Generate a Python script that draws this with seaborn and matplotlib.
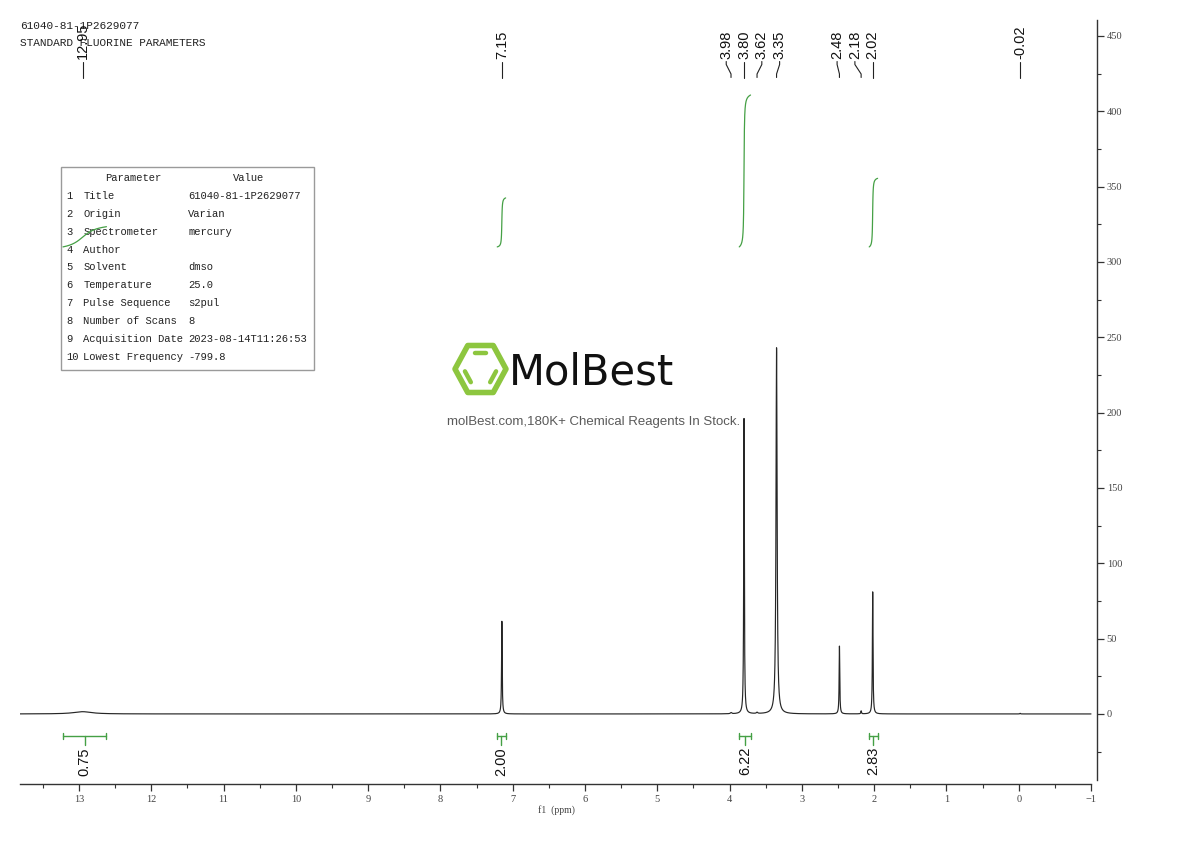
import numpy as np
import pandas as pd
import matplotlib
matplotlib.use("Agg")
import matplotlib.pyplot as plt
import seaborn as sns
from matplotlib import font_manager
from matplotlib.transforms import blended_transform_factory
from matplotlib.ticker import MultipleLocator, FixedLocator
from matplotlib.patches import Polygon, Rectangle

# ---------------- data ----------------
peak_ppm = [12.95, 7.15, 3.98, 3.80, 3.62, 3.35, 2.48, 2.18, 2.02, -0.02]
peak_height = [1.5, 61.5, 0.8, 196.0, 0.8, 243.0, 45.0, 2.0, 81.0, 0.4]
peak_fwhm = [0.30, 0.010, 0.02, 0.010, 0.02, 0.018, 0.010, 0.010, 0.010, 0.010]

peak_labels = ["12.95", "7.15", "3.98", "3.80", "3.62", "3.35", "2.48", "2.18", "2.02", "-0.02"]

integral_start = [13.221, 7.214, 3.866, 2.068]
integral_end = [12.620, 7.098, 3.709, 1.952]
integral_labels = ["0.75", "2.00", "6.22", "2.83"]
integral_trace_top = [323.4, 342.5, 410.8, 355.5]
integral_trace_base = 310.0

x_ticks = [13, 12, 11, 10, 9, 8, 7, 6, 5, 4, 3, 2, 1, 0, -1]
x_tick_labels = ["13", "12", "11", "10", "9", "8", "7", "6", "5", "4", "3", "2", "1", "0", "\u22121"]
y_ticks = [0, 50, 100, 150, 200, 250, 300, 350, 400, 450]

header_lines = ["61040-81-1P2629077", "STANDARD FLUORINE PARAMETERS"]
param_numbers = ["1", "2", "3", "4", "5", "6", "7", "8", "9", "10"]
param_names = ["Title", "Origin", "Spectrometer", "Author", "Solvent", "Temperature",
               "Pulse Sequence", "Number of Scans", "Acquisition Date", "Lowest Frequency"]
param_values = ["61040-81-1P2629077", "Varian", "mercury", "", "dmso", "25.0",
                "s2pul", "8", "2023-08-14T11:26:53", "-799.8"]

# ---------------- style ----------------
sns.set_theme(style="white")
plt.rcParams["font.family"] = ["DejaVu Sans"]

W, H = 1190, 841
green = "#45a045"
lime = "#8dc63f"

fig = plt.figure(figsize=(W / 100, H / 100), dpi=100)
fig.patch.set_facecolor("white")

ov = fig.add_axes([0, 0, 1, 1], zorder=0)
ov.set_xlim(0, W)
ov.set_ylim(H, 0)
ov.axis("off")

ax = fig.add_axes([20 / W, (H - 784) / H, 1077 / W, 764 / H], zorder=1)
ax.patch.set_alpha(0)

# ---------------- spectrum ----------------
ppm_grid = np.linspace(13.816, -1.0, 14817)
intensity = np.zeros_like(ppm_grid)
for c, h, w in zip(peak_ppm, peak_height, peak_fwhm):
    g = w / 2
    intensity += h * g ** 2 / ((ppm_grid - c) ** 2 + g ** 2)
df = pd.DataFrame({"ppm": ppm_grid, "intensity": intensity})
sns.lineplot(data=df, x="ppm", y="intensity", ax=ax, color="#262626",
             linewidth=0.85, estimator=None, sort=False, legend=False)

ax.set_xlim(13.816, -1.083)
ax.set_ylim(-46.5, 460.6)
ax.set_xlabel("")
ax.set_ylabel("")

for side in ["left", "top"]:
    ax.spines[side].set_visible(False)
ax.spines["bottom"].set_bounds(13.816, -1.0)
ax.spines["right"].set_bounds(-43.8, 460.6)
for side in ["bottom", "right"]:
    ax.spines[side].set_color("#333333")
    ax.spines[side].set_linewidth(1.0)

ax.yaxis.tick_right()
ax.xaxis.set_major_locator(FixedLocator(x_ticks))
ax.set_xticklabels(x_tick_labels)
ax.xaxis.set_minor_locator(MultipleLocator(0.5))
ax.yaxis.set_major_locator(FixedLocator(y_ticks))
ax.set_yticklabels([str(v) for v in y_ticks])
ax.yaxis.set_minor_locator(MultipleLocator(25))
ax.tick_params(axis="x", which="major", direction="out", length=5, width=0.9,
               color="#333333", pad=3, labelsize=7.5, labelcolor="#444444", bottom=True)
ax.tick_params(axis="x", which="minor", direction="out", length=3, width=0.8,
               color="#333333", bottom=True)
ax.tick_params(axis="y", which="major", direction="out", length=5, width=0.9,
               color="#333333", pad=2, labelsize=7.5, labelcolor="#444444",
               right=True, left=False)
ax.tick_params(axis="y", which="minor", direction="out", length=3, width=0.8,
               color="#333333", right=True, left=False)
for lab in ax.get_xticklabels() + ax.get_yticklabels():
    lab.set_fontfamily(["Liberation Serif", "DejaVu Serif"])

# ---------------- integrals ----------------
for s, e, top in zip(integral_start, integral_end, integral_trace_top):
    m = (ppm_grid <= s) & (ppm_grid >= e)
    cs = np.cumsum(intensity[m])
    cs = (cs - cs[0]) / (cs[-1] - cs[0])
    ax.plot(ppm_grid[m], integral_trace_base + (top - integral_trace_base) * cs,
            color=green, lw=0.9, clip_on=False)

yb, cap, ystem, ylab = -14.6, 2.2, -20.6, -22.0
for s, e, lab in zip(integral_start, integral_end, integral_labels):
    c = (s + e) / 2
    ax.plot([s, e], [yb, yb], color=green, lw=1.0, clip_on=False)
    ax.plot([s, s], [yb - cap, yb + cap], color=green, lw=1.0, clip_on=False)
    ax.plot([e, e], [yb - cap, yb + cap], color=green, lw=1.0, clip_on=False)
    ax.plot([c, c], [yb, ystem], color=green, lw=1.0, clip_on=False)
    ax.text(c, ylab, lab, rotation=90, rotation_mode="anchor", ha="right",
            va="center", fontsize=10.5, color="#111111",
            family=["Liberation Sans", "DejaVu Sans"])

# ---------------- peak labels ----------------
bt = blended_transform_factory(ax.transData, ax.transAxes)
ppx = 72.29  # pixels per ppm
step = 17.8 / ppx
label_pos = [12.95, 7.15, 3.80 + step, 3.80, 3.80 - step, 3.80 - 2 * step,
             2.02 + 2 * step, 2.02 + step, 2.02, -0.02]

def fy(py):
    return (784 - py) / 764

for lab, lx, px in zip(peak_labels, label_pos, peak_ppm):
    ax.text(lx, fy(59), lab, rotation=90, rotation_mode="anchor", ha="left",
            va="center", fontsize=10.5, color="#111111", transform=bt,
            family=["Liberation Sans", "DejaVu Sans"], clip_on=False)
    ax.plot([lx, lx, px, px], [fy(61.5), fy(64.5), fy(74), fy(77.5)],
            color="#222222", lw=0.8, transform=bt, clip_on=False)

# ---------------- header + parameter table ----------------
mono = ["Liberation Mono", "DejaVu Sans Mono"]
ov.text(20.5, 26, header_lines[0], fontsize=8, family=mono, color="#222222", va="center", ha="left")
ov.text(20.5, 42.5, header_lines[1], fontsize=8, family=mono, color="#222222", va="center", ha="left")

ov.add_patch(Rectangle((61, 167.3), 253.3, 202.7, fill=False, edgecolor="#9a9a9a", lw=1.0))
ov.text(133.3, 178.3, "Parameter", fontsize=7.6, family=mono, color="#222222", ha="center", va="center")
ov.text(248.3, 178.3, "Value", fontsize=7.6, family=mono, color="#222222", ha="center", va="center")
for i, (n, p, v) in enumerate(zip(param_numbers, param_names, param_values)):
    yy = 196 + 17.86 * i
    ov.text(66.5, yy, n, fontsize=7.6, family=mono, color="#222222", ha="left", va="center")
    ov.text(83.3, yy, p, fontsize=7.6, family=mono, color="#222222", ha="left", va="center")
    ov.text(188.3, yy, v, fontsize=7.6, family=mono, color="#222222", ha="left", va="center")

# ---------------- watermark logo ----------------
cx, cy, rx, ry = 480.5, 369.0, 25.5, 23.5
hexv = [(cx - rx, cy), (cx - rx / 2, cy - ry), (cx + rx / 2, cy - ry),
        (cx + rx, cy), (cx + rx / 2, cy + ry), (cx - rx / 2, cy + ry)]
ov.add_patch(Polygon(hexv, closed=True, fill=False, edgecolor=lime, lw=4.0, joinstyle="round"))
k = 0.66
inner = [(cx + (x - cx) * k, cy + (y - cy) * k) for x, y in hexv]
for a, b in [(1, 2), (0, 5), (4, 3)]:
    (x1, y1), (x2, y2) = inner[a], inner[b]
    t1, t2 = 0.15, 0.85
    ov.plot([x1 + (x2 - x1) * t1, x1 + (x2 - x1) * t2],
            [y1 + (y2 - y1) * t1, y1 + (y2 - y1) * t2],
            color=lime, lw=3.2, solid_capstyle="round")

narrow_ok = False
try:
    fp = font_manager.findfont(font_manager.FontProperties(family="Liberation Sans Narrow"),
                               fallback_to_default=False)
    narrow_ok = "narrow" in fp.lower()
except Exception:
    narrow_ok = False
if narrow_ok:
    ov.text(509, 373, "MolBest", fontsize=40, family=["Liberation Sans Narrow"],
            color="#111111", ha="left", va="center")
else:
    ov.text(509, 372, "MolBest", fontsize=30, family=["DejaVu Sans"],
            color="#111111", ha="left", va="center")
ov.text(594, 421.5, "molBest.com,180K+ Chemical Reagents In Stock.", fontsize=9.5,
        family=["Liberation Sans", "DejaVu Sans"], color="#5a5a5a", ha="center", va="center")

# ---------------- axis title ----------------
ov.text(556, 810.5, "f1  (ppm)", fontsize=7, family=["Liberation Serif", "DejaVu Serif"],
        color="#444444", ha="center", va="center")

fig.savefig("out.png", dpi=100, facecolor="white")
